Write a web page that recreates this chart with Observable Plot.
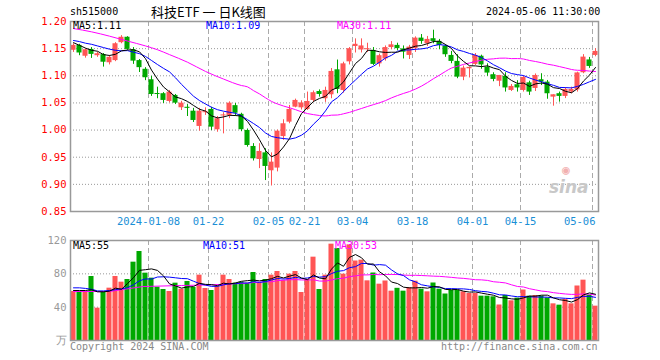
<!DOCTYPE html>
<html><head><meta charset="utf-8">
<script src="https://cdn.jsdelivr.net/npm/d3@7"></script>
<script src="https://cdn.jsdelivr.net/npm/@observablehq/plot@0.6"></script>
<style>
body{margin:0;background:#fff;}
#wrap{position:relative;width:660px;height:360px;overflow:hidden;font-family:"DejaVu Sans Mono",monospace;}
.t{position:absolute;white-space:pre;font-size:10px;line-height:12px;}
</style></head><body><div id="wrap"></div>
<script>
// ---- data ----
const open = [1.147,1.156,1.136,1.1486,1.137,1.139,1.124,1.128,1.161,1.171,
1.148,1.128,1.112,1.0927,1.066,1.067,1.0527,1.0638,1.0411,1.042,
1.0348,1.0067,1.032,1.038,1.0005,1.026,1.027,1.045,1.029,0.9993,
0.9698,0.9458,0.958,0.925,0.930,0.988,1.0146,1.0422,1.041,1.038,
1.0546,1.071,1.0577,1.065,1.111,1.073,1.1257,1.154,1.1475,1.148,
1.1467,1.122,1.131,1.152,1.156,1.1495,1.1375,1.1499,1.1694,1.1591,
1.1683,1.1633,1.1546,1.1375,1.1265,1.0975,1.113,1.121,1.136,1.116,
1.102,1.090,1.099,1.073,1.0835,1.073,1.087,1.0767,1.0927,1.0883,
1.0607,1.067,1.062,1.070,1.074,1.1056,1.1292,1.1375];
const high = [1.159,1.158,1.149,1.152,1.1436,1.141,1.1375,1.161,1.174,1.172,
1.152,1.130,1.115,1.099,1.079,1.069,1.073,1.0656,1.053,1.047,
1.040,1.040,1.041,1.042,1.025,1.032,1.052,1.049,1.031,1.002,
0.975,0.975,0.9656,0.958,1.000,1.019,1.0454,1.057,1.054,1.070,
1.072,1.074,1.079,1.1134,1.129,1.125,1.152,1.168,1.168,1.16,
1.152,1.140,1.155,1.163,1.160,1.155,1.156,1.1717,1.176,1.1725,
1.184,1.167,1.157,1.1449,1.1388,1.118,1.116,1.141,1.138,1.122,
1.1056,1.1006,1.1056,1.084,1.091,1.099,1.090,1.1034,1.1038,1.0914,
1.065,1.070,1.078,1.079,1.1067,1.139,1.1338,1.1499];
const low = [1.143,1.137,1.1325,1.132,1.134,1.116,1.120,1.126,1.159,1.147,
1.121,1.106,1.091,1.062,1.0577,1.049,1.050,1.047,1.036,1.025,
1.014,0.998,1.027,0.999,0.996,0.993,1.021,1.025,0.997,0.9685,
0.943,0.929,0.907,0.897,0.923,0.981,1.0116,1.041,1.037,1.036,
1.051,1.0607,1.051,1.0577,1.067,1.068,1.12,1.142,1.142,1.143,
1.119,1.116,1.127,1.148,1.146,1.131,1.130,1.143,1.158,1.154,
1.159,1.148,1.134,1.1222,1.0946,1.091,1.096,1.119,1.112,1.099,
1.089,1.080,1.070,1.071,1.070,1.070,1.0638,1.071,1.082,1.0568,
1.044,1.0514,1.058,1.067,1.070,1.1038,1.1136,1.135];
const close = [1.156,1.142,1.148,1.1394,1.1406,1.125,1.134,1.159,1.171,1.1486,
1.127,1.115,1.0964,1.0656,1.0655,1.0546,1.0699,1.0496,1.0496,1.040,
1.0177,1.0348,1.033,1.0054,1.0209,1.027,1.0496,1.031,1.0006,0.9716,
0.9471,0.9606,0.933,0.9409,0.998,1.0116,1.038,1.0546,1.050,1.0527,
1.0688,1.0656,1.073,1.108,1.0749,1.122,1.1499,1.158,1.155,1.150,
1.121,1.137,1.152,1.157,1.150,1.1435,1.1528,1.1694,1.1633,1.167,
1.1633,1.1559,1.1388,1.1265,1.0975,1.1141,1.1154,1.1375,1.120,1.105,
1.0933,1.1006,1.0776,1.0804,1.0776,1.097,1.070,1.1006,1.0883,1.0669,
1.065,1.062,1.0748,1.0748,1.1053,1.1344,1.1172,1.1449];
const volume = [58.8,58.8,58.8,76.8,38.8,58.8,62.8,76.8,70,73.2,
94,106.8,80.8,74.8,64,61.2,58.8,68.8,61.6,70.8,
63.6,78.4,62.4,60,64.8,78.4,73.2,68.8,70,68.8,
81.6,68.8,73.2,78.4,82.8,72,79.6,82.8,57.6,73.2,
100,61.2,78.4,115.6,110.4,79.6,114.8,95.4,96.4,71.6,
81,67.6,71.4,59.2,62.6,59.2,63.4,71.2,61.6,58.4,
69,61.6,55.8,60,60,58.4,56.4,56.4,53.2,53.2,
52.4,42.6,54,47.6,50.8,60.6,53.2,54,53.2,51,
44,42.4,49.4,44,65.4,72.4,54.4,41.2];
// moving-average values visible before their windows fill
const ma5Head = [[0,1.161],[1,1.156],[2,1.151],[3,1.147]];
const ma10Head = [[0,1.165],[1,1.163],[2,1.160],[3,1.158],[4,1.155],[5,1.152],[6,1.149],[7,1.147],[8,1.146]];
const ma30Head = [[0,1.187],[3,1.181],[6,1.173],[9,1.164],[12,1.155],[14,1.148],[16,1.139],[19,1.125],[22,1.108],[25,1.094],[28,1.082]];
const volMa5Head = [[0,60],[1,60],[2,60],[3,61]];
const volMa10Head = [[0,63.2],[1,63.2],[2,62.5],[3,61.5],[4,59.5],[5,59.5],[6,60],[7,61],[8,62]];
const volMa30Head = [[0,58.8],[6,58.8],[11.6,64.8],[18,66],[23,66.8],[28,68.5]];
const dateIdx = [13,23,33,39,47,57,67,75,87];
const dateLabels = ["2024-01-08","01-22","02-05","02-21","03-04","03-18","04-01","04-15","05-06"];
const priceTicks = [0.85,0.90,0.95,1.00,1.05,1.10,1.15,1.20];
const volTicks = [0,40,80,120];
const volTickText = ["万","40","80","120"];
const maLabels = ["MA5:1.11","MA10:1.09","MA30:1.11"];
const volMaLabels = ["MA5:55","MA10:51","MA30:53"];
const headerCode = "sh515000", headerTitle = "科技ETF 一 日K线图", headerTime = "2024-05-06 11:30:00";

// ---- build ----
const RED = "#ff5555", GREEN = "#00a800";
const n = close.length;
const bars = d3.range(n).map(i => ({i, o: open[i], h: high[i], l: low[i], c: close[i], v: volume[i], up: close[i] >= open[i]}));
function ma(arr, w, head) {
  const out = head.map(([i, v]) => ({i, v}));
  for (let i = w - 1; i < arr.length; i++) out.push({i, v: d3.mean(arr.slice(i - w + 1, i + 1))});
  return out;
}
const pm5 = ma(close, 5, ma5Head), pm10 = ma(close, 10, ma10Head), pm30 = ma(close, 30, ma30Head);
const vm5 = ma(volume, 5, volMa5Head), vm10 = ma(volume, 10, volMa10Head), vm30 = ma(volume, 30, volMa30Head);
const halfW = 0.42;
const xOpt = {domain: [-0.5, n - 0.5], axis: null};
const font = {fontFamily: "DejaVu Sans Mono", fontSize: "10.5px", background: "transparent", overflow: "visible"};
const dashRule = (data) => Plot.ruleX(data, {x: d => d - 0.5, stroke: "#aaa", strokeDasharray: "5,3"});

const p1 = Plot.plot({
  width: 660, height: 232, marginLeft: 70, marginRight: 62, marginTop: 21, marginBottom: 21,
  style: font, x: xOpt, y: {domain: [0.85, 1.20], axis: null}, color: {type: "identity"},
  marks: [
    Plot.ruleY(priceTicks.slice(1, -1), {stroke: "#999", strokeDasharray: "1,2"}),
    dashRule(dateIdx),
    Plot.ruleX(bars, {x: "i", y1: "l", y2: "h", stroke: d => d.up ? RED : GREEN}),
    Plot.rect(bars, {x1: d => d.i - halfW, x2: d => d.i + halfW,
      y1: d => Math.min(d.o, d.c), y2: d => Math.max(d.o, d.c, Math.min(d.o, d.c) + 0.0019),
      fill: d => d.up ? RED : GREEN}),
    Plot.line(pm30, {x: "i", y: "v", stroke: "#ff00ff", strokeWidth: 1, curve: "monotone-x"}),
    Plot.line(pm10, {x: "i", y: "v", stroke: "#0000ff", strokeWidth: 1}),
    Plot.line(pm5, {x: "i", y: "v", stroke: "#000000", strokeWidth: 1}),
    Plot.frame({stroke: "#999", strokeWidth: 1.5}),
    Plot.axisY(priceTicks, {anchor: "left", tickSize: 0, tickPadding: 4, tickFormat: d3.format(".2f"), color: "#ff0000", label: null}),
    Plot.text(dateLabels.slice(0, -1), {x: (d, k) => dateIdx[k] - 0.5, frameAnchor: "bottom", lineAnchor: "middle", dy: 10, fill: "#1a8fd6"}),
    Plot.text(dateLabels.slice(-1), {x: () => dateIdx[dateIdx.length - 1] - 0.5, frameAnchor: "bottom", lineAnchor: "middle", dy: 10, dx: 3, textAnchor: "end", fill: "#1a8fd6"})
  ]
});
const p2 = Plot.plot({
  width: 660, height: 130, marginLeft: 70, marginRight: 62, marginTop: 10, marginBottom: 20,
  style: font, x: xOpt, y: {domain: [0, 120], axis: null}, color: {type: "identity"},
  marks: [
    Plot.ruleY([40, 80], {stroke: "#999", strokeDasharray: "1,2"}),
    dashRule(dateIdx),
    Plot.rect(bars, {x1: d => d.i - halfW, x2: d => d.i + halfW, y1: 0, y2: "v", fill: d => d.up ? RED : GREEN}),
    Plot.line(vm30, {x: "i", y: "v", stroke: "#ff00ff", strokeWidth: 1}),
    Plot.line(vm10, {x: "i", y: "v", stroke: "#0000ff", strokeWidth: 1}),
    Plot.line(vm5, {x: "i", y: "v", stroke: "#000000", strokeWidth: 1}),
    Plot.frame({stroke: "#999", strokeWidth: 1.5}),
    Plot.axisY(volTicks, {anchor: "left", tickSize: 0, tickPadding: 4, tickFormat: (d, k) => volTickText[volTicks.indexOf(d)], color: "#999", label: null})
  ]
});
const wrap = document.getElementById("wrap");
for (const [svg, top] of [[p1, 0], [p2, 230]]) {
  svg.style.position = "absolute"; svg.style.left = "0px"; svg.style.top = top + "px";
  wrap.appendChild(svg);
}
function label(text, left, top, color, extra) {
  const s = document.createElement("div");
  s.className = "t"; s.textContent = text;
  s.style.left = left + "px"; s.style.top = top + "px"; s.style.color = color;
  if (extra) Object.assign(s.style, extra);
  wrap.appendChild(s);
  return s;
}
label(headerCode, 70, 6, "#000");
label(headerTitle, 151, 4, "#000", {fontFamily: "'Noto Sans CJK SC'", fontSize: "13px", lineHeight: "16px"});
label(headerTime, 486, 6, "#000");
const maColors = ["#000000", "#0000ff", "#ff00ff"];
[73, 206, 337].forEach((x, k) => label(maLabels[k], x, 20, maColors[k]));
[73, 203, 335].forEach((x, k) => label(volMaLabels[k], x, 240, maColors[k]));
label("Copyright 2024 SINA.COM", 70, 341, "#888");
label("http://finance.sina.com.cn", 441, 341, "#888");
label("sina", 549, 177, "#c8c8c8", {fontFamily: "'DejaVu Sans'", fontWeight: "bold", fontStyle: "italic", fontSize: "17px", lineHeight: "20px"});
label("◉", 562, 163, "#f2b0b0", {fontSize: "13px", lineHeight: "14px"});
</script></body></html>
